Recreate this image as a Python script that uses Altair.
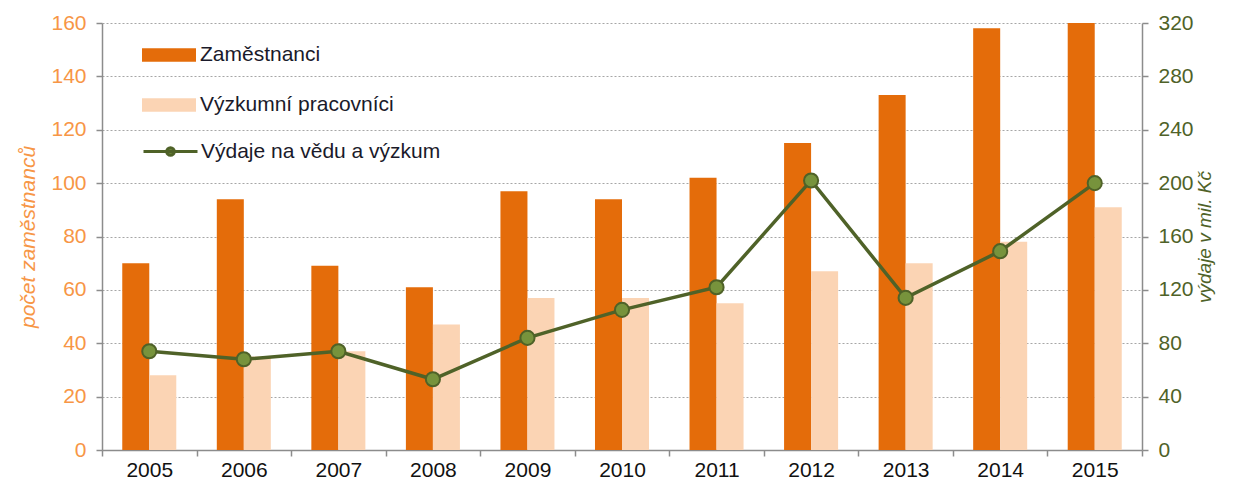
import altair as alt
import pandas as pd

years = ["2005", "2006", "2007", "2008", "2009", "2010", "2011", "2012", "2013", "2014", "2015"]
zamestnanci = [70, 94, 69, 61, 97, 94, 102, 115, 133, 158, 160]
vyzkumni = [28, 35, 37, 47, 57, 57, 55, 67, 70, 78, 91]
vydaje = [74, 68, 74, 53, 84, 105, 122, 202, 114, 149, 200]

series_bars = ["Zaměstnanci", "Výzkumní pracovníci"]
series_line = "Výdaje na vědu a výzkum"
left_ticks = [0, 20, 40, 60, 80, 100, 120, 140, 160]
right_ticks = [0, 40, 80, 120, 160, 200, 240, 280, 320]

FONT = "Liberation Sans"
DARK = "#E46C0A"
LIGHT = "#FBD4B4"
OLIVE = "#4F6228"
OLIVE_FILL = "#77933C"
ORANGE_TXT = "#F79646"

bars_df = pd.DataFrame(
    [{"year": y, "series": series_bars[0], "value": v} for y, v in zip(years, zamestnanci)]
    + [{"year": y, "series": series_bars[1], "value": v} for y, v in zip(years, vyzkumni)]
)
line_df = pd.DataFrame({"year": years, "value": vydaje, "series": [series_line] * len(years)})

x_enc = alt.X(
    "year:N",
    sort=years,
    scale=alt.Scale(paddingInner=0, paddingOuter=0),
    axis=alt.Axis(
        title=None, labelAngle=0, tickBand="extent", labelFont=FONT, labelFontSize=21,
        labelColor="#111111", domainColor="#8C8C8C", domainWidth=1.5, tickColor="#8C8C8C",
        tickWidth=1.5, tickSize=6, labelPadding=3, grid=False,
    ),
)

bar_rect = "M-1,-0.25H1V0.25H-1Z"
line_sym = "M-1,0H1M0.14,0A0.14,0.14 0 1 1 -0.14,0A0.14,0.14 0 1 1 0.14,0Z"

bars = alt.Chart(bars_df).mark_bar().encode(
    x=x_enc,
    xOffset=alt.XOffset("series:N", sort=series_bars,
                        scale=alt.Scale(domain=series_bars, paddingInner=0, paddingOuter=0.75)),
    y=alt.Y(
        "value:Q",
        scale=alt.Scale(domain=[0, 160], nice=False),
        axis=alt.Axis(
            values=left_ticks, title="počet zaměstnanců", titleFont=FONT, titleFontSize=21,
            titleFontStyle="italic", titleFontWeight="normal", titleColor=ORANGE_TXT, titlePadding=12,
            labelFont=FONT, labelFontSize=21, labelColor=ORANGE_TXT, labelPadding=10,
            domainColor="#8C8C8C", domainWidth=1.5, tickColor="#8C8C8C", tickWidth=1.5, tickSize=6,
            grid=True, gridColor="#A6A6A6", gridDash=[2, 2], gridWidth=1,
        ),
    ),
    color=alt.Color(
        "series:N",
        scale=alt.Scale(domain=series_bars, range=[DARK, LIGHT]),
        legend=alt.Legend(
            title=None, orient="none", legendX=40, legendY=5, symbolType=bar_rect,
            symbolSize=2916, symbolStrokeWidth=0, labelFont=FONT, labelFontSize=21,
            labelColor="#1A1A2A", labelOffset=4, rowPadding=13, padding=0, labelLimit=0,
        ),
    ),
)

y_right = alt.Y(
    "value:Q",
    scale=alt.Scale(domain=[0, 320], nice=False),
    axis=alt.Axis(
        orient="right", values=right_ticks, title="výdaje v mil. Kč", titleFont=FONT,
        titleFontSize=19, titleFontStyle="italic", titleFontWeight="normal", titleColor=OLIVE,
        titleAngle=270, titlePadding=21, labelFont=FONT, labelFontSize=21, labelColor=OLIVE,
        labelPadding=10, domainColor="#8C8C8C", domainWidth=1.5, tickColor="#8C8C8C",
        tickWidth=1.5, tickSize=6, grid=False,
    ),
)

line = alt.Chart(line_df).mark_line(strokeWidth=3.5).encode(
    x=alt.X("year:N", sort=years),
    y=y_right,
    stroke=alt.Stroke(
        "series:N",
        scale=alt.Scale(domain=[series_line], range=[OLIVE]),
        legend=alt.Legend(
            title=None, orient="none", legendX=40, legendY=100, symbolType=line_sym,
            symbolSize=2916, symbolStrokeWidth=3, symbolFillColor=OLIVE_FILL, labelFont=FONT,
            labelFontSize=21, labelColor="#1A1A2A", labelOffset=2, padding=0, labelLimit=0,
        ),
    ),
)

points = alt.Chart(line_df).mark_point(
    filled=True, fill=OLIVE_FILL, stroke=OLIVE, strokeWidth=2, size=200, opacity=1
).encode(
    x=alt.X("year:N", sort=years),
    y=alt.Y("value:Q", scale=alt.Scale(domain=[0, 320], nice=False)),
)

chart = (
    alt.layer(bars, alt.layer(line, points))
    .resolve_scale(y="independent")
    .properties(
        width=1040, height=427,
        padding={"left": 94, "top": 15, "right": 84, "bottom": 30},
        autosize=alt.AutoSizeParams(type="none"),
        background="white",
    )
    .configure_view(stroke=None)
)

chart.save("out.html", embed_options={"renderer": "svg", "actions": False})
